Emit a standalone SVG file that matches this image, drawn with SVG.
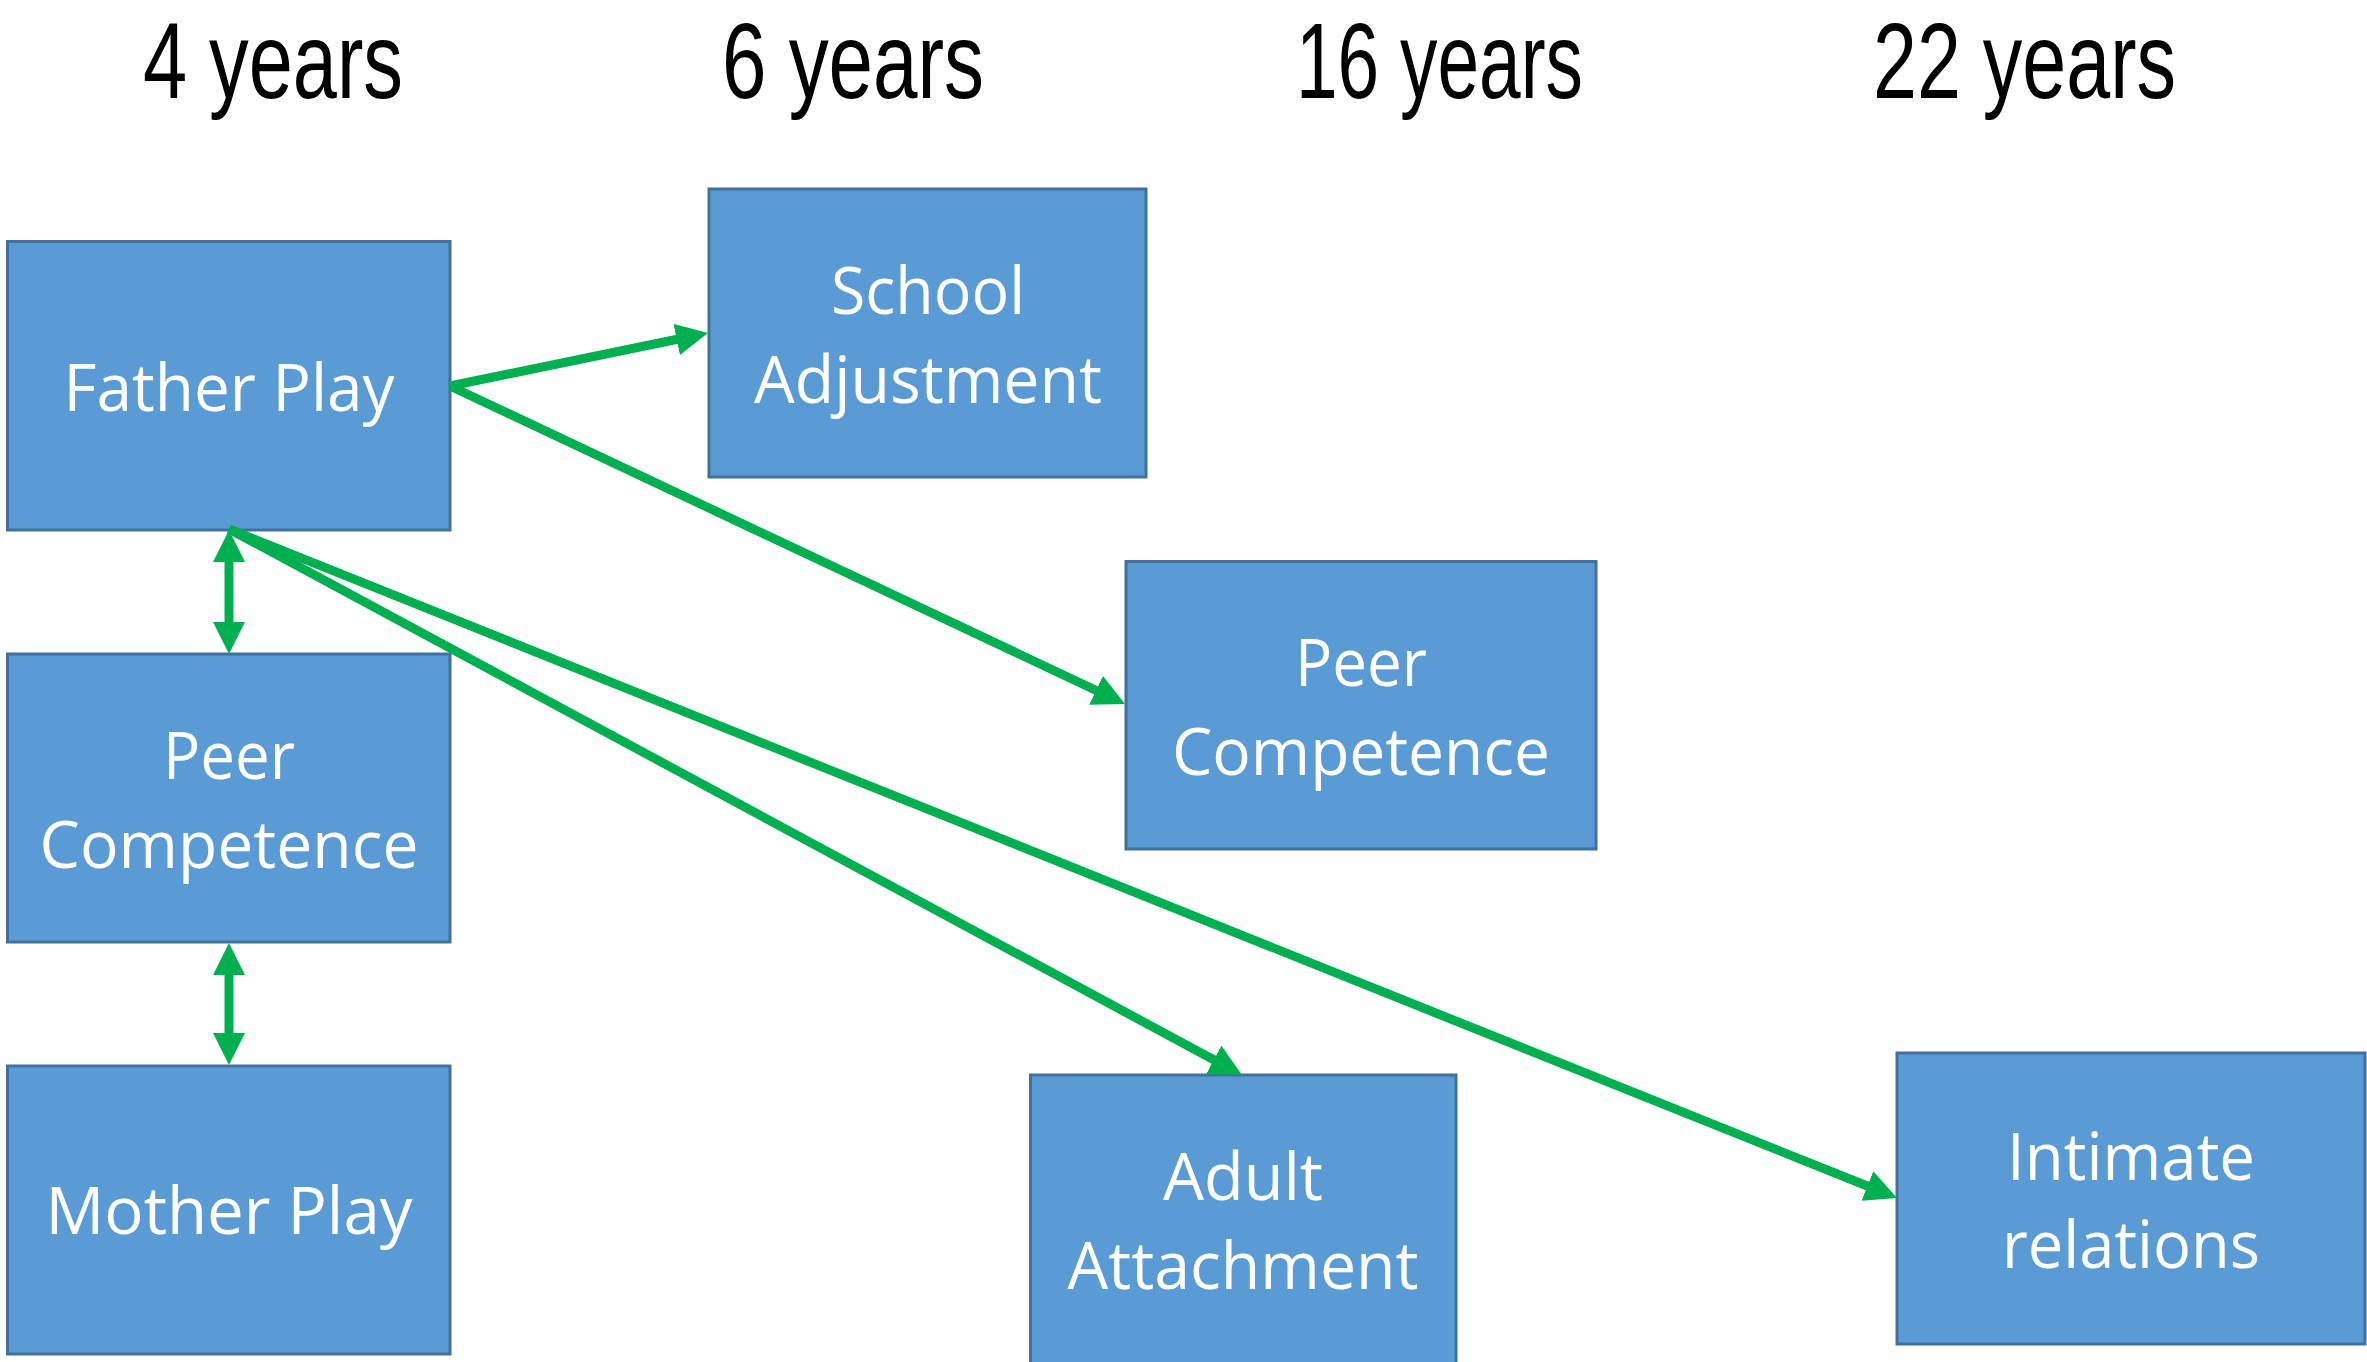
<svg xmlns="http://www.w3.org/2000/svg" width="2367" height="1362" viewBox="0 0 2367 1362">
<style>
.box{fill:#5B9BD5;stroke:#41719C;stroke-width:3}
.lbl{font-family:"Open Sans","Noto Sans",sans-serif;font-size:66px;fill:#FFFFFF;text-anchor:middle}
.hdr{font-family:"Liberation Sans",Arial,sans-serif;font-size:108px;fill:#000000}
.con{stroke:#00B050;stroke-width:9;fill:none}
</style>
<defs>
<marker id="ah" viewBox="0 -16 32 32" refX="2" refY="0" markerWidth="32" markerHeight="32" markerUnits="userSpaceOnUse" orient="auto-start-reverse">
<path d="M0,-16 L32,0 L0,16 Z" fill="#00B050"/>
</marker>
</defs>
<rect width="2367" height="1362" fill="#FFFFFF"/>
<g id="headers">
<text class="hdr" x="143" y="98" textLength="260" lengthAdjust="spacingAndGlyphs">4 years</text>
<text class="hdr" x="722" y="98" textLength="262" lengthAdjust="spacingAndGlyphs">6 years</text>
<text class="hdr" x="1296" y="98" textLength="287" lengthAdjust="spacingAndGlyphs">16 years</text>
<text class="hdr" x="1873" y="98" textLength="303" lengthAdjust="spacingAndGlyphs">22 years</text>
</g>
<g id="father-play">
<rect class="box" x="7.5" y="241.5" width="442.5" height="288.5"/>
<text class="lbl" x="229" y="411" textLength="331" lengthAdjust="spacingAndGlyphs">Father Play</text>
</g>
<g id="peer-competence-4">
<rect class="box" x="7.5" y="654" width="442.5" height="288"/>
<text class="lbl" x="229" y="779" textLength="132" lengthAdjust="spacingAndGlyphs">Peer</text>
<text class="lbl" x="229" y="868" textLength="379" lengthAdjust="spacingAndGlyphs">Competence</text>
</g>
<g id="mother-play">
<rect class="box" x="7.5" y="1066" width="442.5" height="288"/>
<text class="lbl" x="229" y="1234" textLength="367" lengthAdjust="spacingAndGlyphs">Mother Play</text>
</g>
<g id="school-adjustment">
<rect class="box" x="709" y="189" width="437" height="288"/>
<text class="lbl" x="928" y="314" textLength="194" lengthAdjust="spacingAndGlyphs">School</text>
<text class="lbl" x="928" y="403" textLength="348" lengthAdjust="spacingAndGlyphs">Adjustment</text>
</g>
<g id="peer-competence-16">
<rect class="box" x="1126" y="561.5" width="470" height="287.5"/>
<text class="lbl" x="1361" y="686" textLength="132" lengthAdjust="spacingAndGlyphs">Peer</text>
<text class="lbl" x="1361" y="775" textLength="378" lengthAdjust="spacingAndGlyphs">Competence</text>
</g>
<g id="adult-attachment">
<rect class="box" x="1030.5" y="1075" width="425.5" height="300"/>
<text class="lbl" x="1243" y="1200" textLength="160" lengthAdjust="spacingAndGlyphs">Adult</text>
<text class="lbl" x="1243" y="1289" textLength="351" lengthAdjust="spacingAndGlyphs">Attachment</text>
</g>
<g id="intimate-relations">
<rect class="box" x="1897" y="1053" width="468" height="291"/>
<text class="lbl" x="2131" y="1180" textLength="248" lengthAdjust="spacingAndGlyphs">Intimate</text>
<text class="lbl" x="2131" y="1268" textLength="258" lengthAdjust="spacingAndGlyphs">relations</text>
</g>
<g id="connectors">
<line class="con" x1="450" y1="386" x2="678.6" y2="339" marker-end="url(#ah)"/>
<line class="con" x1="450" y1="386" x2="1097.9" y2="691.2" marker-end="url(#ah)"/>
<line class="con" x1="229" y1="529" x2="1215.6" y2="1060.8" marker-end="url(#ah)"/>
<line class="con" x1="229" y1="529" x2="1869.2" y2="1186.8" marker-end="url(#ah)"/>
<line class="con" x1="229" y1="560" x2="229" y2="624" marker-start="url(#ah)" marker-end="url(#ah)"/>
<line class="con" x1="229" y1="973" x2="229" y2="1035" marker-start="url(#ah)" marker-end="url(#ah)"/>
</g>
</svg>
